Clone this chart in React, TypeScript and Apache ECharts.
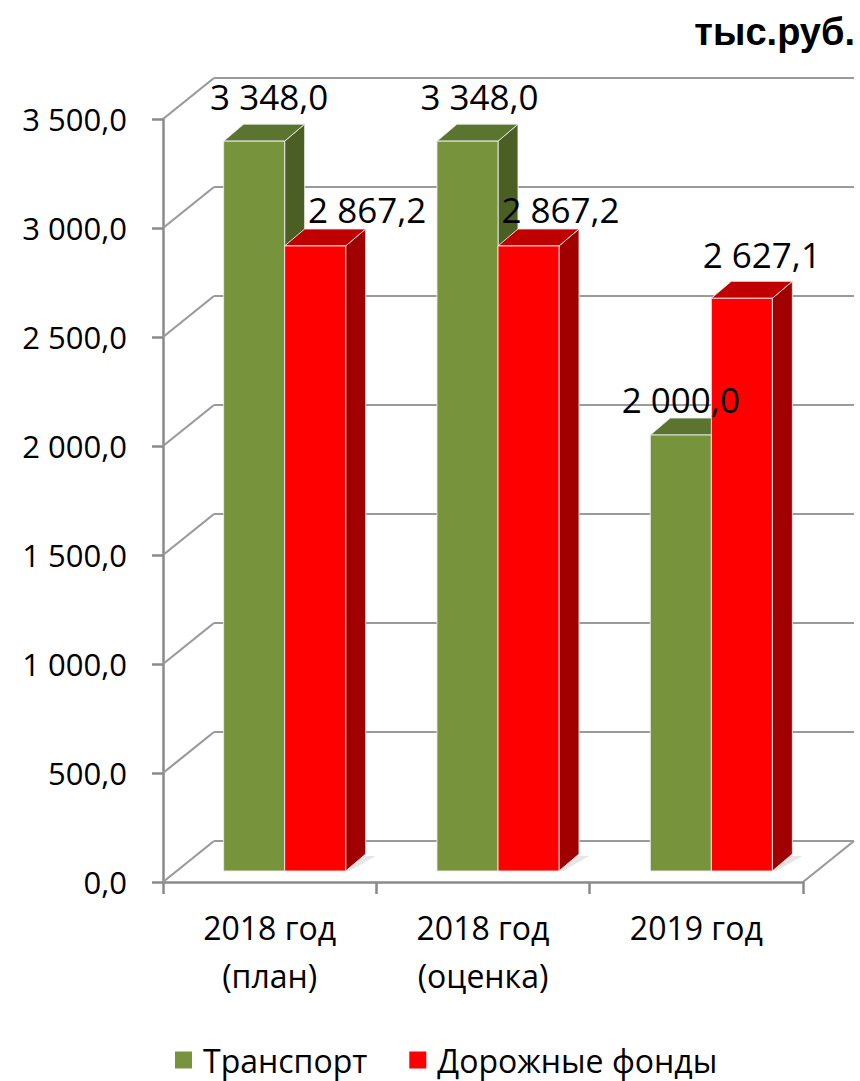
import React, { useEffect, useRef } from "react";
import * as echarts from "echarts";

const categories = ["2018 год\n(план)", "2018 год\n(оценка)", "2019 год"];
const seriesNames = ["Транспорт", "Дорожные фонды"];
const transport = [3348.0, 3348.0, 2000.0];
const roadFunds = [2867.2, 2867.2, 2627.1];
const yTicks = [0, 500, 1000, 1500, 2000, 2500, 3000, 3500];
const unitLabel = "тыс.руб.";

// label nudges (px) relative to the top-centre of each bar's front face
const transportLabelNudge = [[15, -45], [12, -45], [0, -36]];
const roadLabelNudge = [[52, -36], [32, -36], [20, -44]];

const FONT = "'Open Sans', 'Noto Sans', sans-serif";
const GRID = "#9a9a9a";
const AXIS = "#8a8a8a";
const WALL_DX = 51;
const WALL_DY = -41;
const BAR_OFF_X = 15;
const BAR_OFF_Y = -11;
const BAR_DX = 20;
const BAR_DY = -17;

function fmt(v: number): string {
  const [i, d] = v.toFixed(1).split(".");
  return i.replace(/\B(?=(\d{3})+(?!\d))/g, " ") + "," + d;
}

function barRender(idx: number, nudges: number[][], front: string, top: string, side: string) {
  return (params: any, api: any) => {
    const c = api.value(0);
    const v = api.value(1);
    const p = api.coord([c, v]);
    const b = api.coord([c, 0]);
    const band = api.size([1, 0])[0];
    const w = band * 0.286;
    const x0 = p[0] - w + idx * w + BAR_OFF_X;
    const x1 = x0 + w;
    const yt = p[1] + BAR_OFF_Y;
    const yb = b[1] + BAR_OFF_Y;
    const edge = { stroke: "rgba(235,235,235,0.9)", lineWidth: 1 };
    const n = nudges[params.dataIndex];
    return {
      type: "group",
      children: [
        {
          type: "polygon",
          shape: {
            points: [
              [x0 + 2, yb],
              [x1 + 4, yb],
              [x1 + BAR_DX + 10, yb + BAR_DY + 2],
              [x0 + BAR_DX + 4, yb + BAR_DY + 2],
            ],
          },
          style: { fill: "rgba(0,0,0,0.10)" },
          z2: -1,
        },
        {
          type: "polygon",
          shape: { points: [[x1, yt], [x1 + BAR_DX, yt + BAR_DY], [x1 + BAR_DX, yb + BAR_DY], [x1, yb]] },
          style: { fill: side, ...edge },
        },
        {
          type: "polygon",
          shape: { points: [[x0, yt], [x1, yt], [x1 + BAR_DX, yt + BAR_DY], [x0 + BAR_DX, yt + BAR_DY]] },
          style: { fill: top, ...edge },
        },
        {
          type: "rect",
          shape: { x: x0, y: yt, width: w, height: yb - yt },
          style: { fill: front, ...edge },
        },
        {
          type: "text",
          z2: 100,
          style: {
            text: fmt(v),
            x: (x0 + x1) / 2 + n[0],
            y: yt + n[1],
            align: "center",
            verticalAlign: "middle",
            fontSize: 35,
            fontFamily: FONT,
            fill: "#000",
          },
        },
      ],
    };
  };
}

function wallRender(params: any, api: any) {
  const v = api.value(1);
  const y = api.coord([0, v])[1];
  const cs = params.coordSys;
  const xL = cs.x;
  const xR = cs.x + cs.width;
  const ls = { stroke: GRID, lineWidth: 2.2 };
  const children: any[] = [
    { type: "line", shape: { x1: xL, y1: y, x2: xL + WALL_DX, y2: y + WALL_DY }, style: ls },
    { type: "line", shape: { x1: xL + WALL_DX, y1: y + WALL_DY, x2: xR + WALL_DX, y2: y + WALL_DY }, style: ls },
  ];
  if (v === 0) {
    children.push({ type: "line", shape: { x1: xR, y1: y, x2: xR + WALL_DX, y2: y + WALL_DY }, style: ls });
  }
  return { type: "group", children };
}

export default function App() {
  const ref = useRef<HTMLDivElement>(null);
  useEffect(() => {
    const chart = echarts.init(ref.current!, undefined, { renderer: "svg" });
    chart.setOption({
      animation: false,
      backgroundColor: "#ffffff",
      title: {
        text: unitLabel,
        right: 0,
        top: 8,
        textStyle: { fontFamily: "'Liberation Sans', Arial, sans-serif", fontWeight: "bold", fontSize: 38, color: "#000" },
      },
      legend: {
        data: seriesNames,
        left: 175,
        top: 1042,
        padding: 0,
        icon: "rect",
        itemWidth: 17,
        itemHeight: 17,
        itemGap: 42,
        textStyle: { fontFamily: FONT, fontSize: 32, lineHeight: 36, color: "#000", padding: [0, 0, 0, 6] },
      },
      grid: { left: 163, top: 119, width: 640, height: 763, containLabel: false },
      xAxis: {
        type: "category",
        data: categories,
        axisLine: { show: true, lineStyle: { color: AXIS, width: 2.5 } },
        axisTick: { show: true, length: 12, lineStyle: { color: AXIS, width: 2.5 } },
        axisLabel: { fontFamily: FONT, fontSize: 32, lineHeight: 48, margin: 21, color: "#000" },
        splitLine: { show: false },
      },
      yAxis: {
        type: "value",
        min: 0,
        max: 3500,
        interval: 500,
        axisLine: { show: true, lineStyle: { color: AXIS, width: 2.5 } },
        axisTick: { show: true, length: 11, lineStyle: { color: AXIS, width: 2.5 } },
        axisLabel: { fontFamily: FONT, fontSize: 31, margin: 36, color: "#000", formatter: (v: number) => fmt(v) },
        splitLine: { show: false },
      },
      series: [
        {
          type: "custom",
          name: "wall",
          data: yTicks.map((v) => [0, v]),
          encode: { x: 0, y: 1 },
          renderItem: wallRender,
          silent: true,
        },
        {
          type: "custom",
          name: seriesNames[0],
          itemStyle: { color: "#77933C" },
          data: transport.map((v, i) => [i, v]),
          encode: { x: 0, y: 1 },
          renderItem: barRender(0, transportLabelNudge, "#77933C", "#5B7530", "#4B5F25"),
        },
        {
          type: "custom",
          name: seriesNames[1],
          itemStyle: { color: "#FF0000" },
          data: roadFunds.map((v, i) => [i, v]),
          encode: { x: 0, y: 1 },
          renderItem: barRender(1, roadLabelNudge, "#FF0000", "#C00000", "#A00000"),
        },
      ],
    });
    return () => chart.dispose();
  }, []);
  return (
    <div
      ref={ref}
      style={{ position: "fixed", left: 0, top: 0, width: 860, height: 1081, background: "#fff" }}
    />
  );
}
